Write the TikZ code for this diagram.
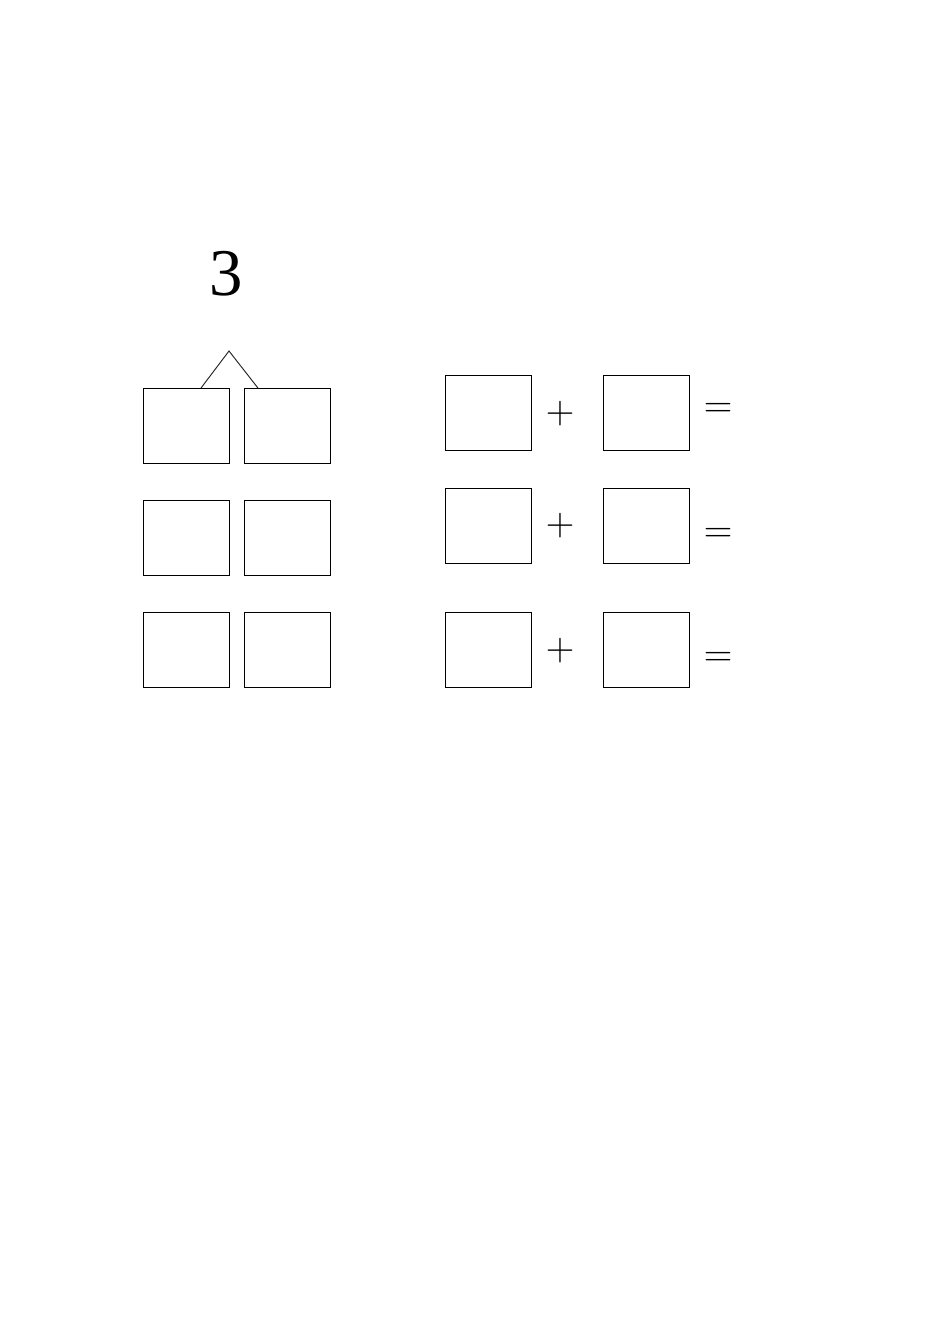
\documentclass[tikz,border=0pt]{standalone}
\usepackage{fontspec}
\newfontfamily\digitfont{Liberation Serif}
\usetikzlibrary{positioning}
\tikzset
{
    answerbox/.style = {rectangle, draw=black, thin, minimum width=1.9cm, minimum height=1.66cm, inner sep=0pt},
    sign/.style      = {font=\fontsize{30}{34}\selectfont, inner sep=0pt},
    bigdigit/.style  = {font=\digitfont\fontsize{42}{48}\selectfont, inner sep=0pt}
}
\begin{document}
\begin{tikzpicture}[x=0.02211cm, y=-0.02211cm]
\useasboundingbox (0,0) rectangle (950,1344);
\node [bigdigit] at (226,274) (n) {3};
\coordinate (apex) at (229,351);
% split boxes
\node [answerbox] at (186,426) (a1) {};
\node [answerbox] at (287,426) (b1) {};
\node [answerbox] at (186,538) (a2) {};
\node [answerbox] at (287,538) (b2) {};
\node [answerbox] at (186,650) (a3) {};
\node [answerbox] at (287,650) (b3) {};
\draw [black!85, semithick] ([xshift=0.33cm]a1.north) -- (apex) -- ([xshift=-0.64cm]b1.north);
% sums
\node [answerbox] at (488,413) (p1) {};
\node [sign] at (560,414) (plus1) {$+$};
\node [answerbox] at (646,413) (q1) {};
\node [sign] at (718,410) (eq1) {$=$};
\node [answerbox] at (488,526) (p2) {};
\node [sign] at (560,526) (plus2) {$+$};
\node [answerbox] at (646,526) (q2) {};
\node [sign] at (718,535) (eq2) {$=$};
\node [answerbox] at (488,650) (p3) {};
\node [sign] at (560,651) (plus3) {$+$};
\node [answerbox] at (646,650) (q3) {};
\node [sign] at (718,659) (eq3) {$=$};
\end{tikzpicture}
\end{document}
